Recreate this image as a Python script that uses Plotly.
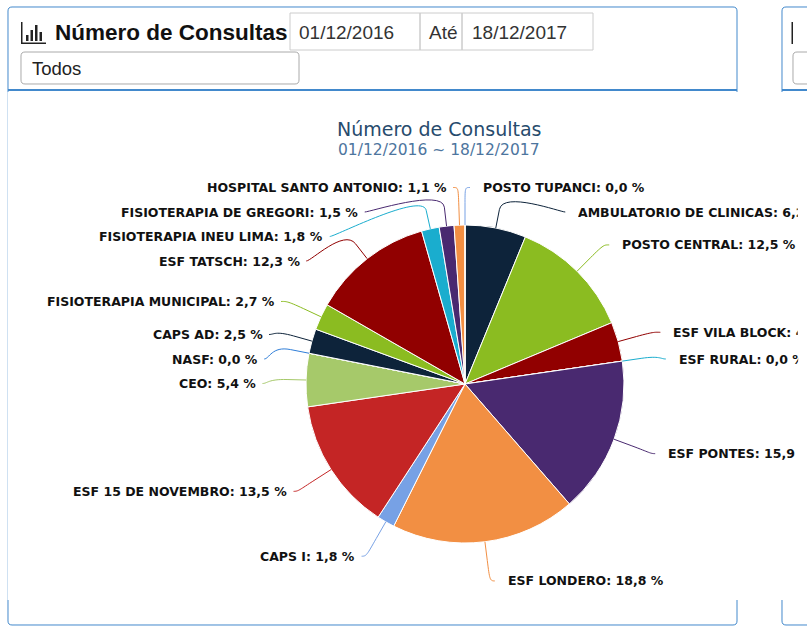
import math
import plotly.graph_objects as go

W, H = 807, 642

# share of consultations (%), clockwise from 12 o'clock
units = ["AMBULATORIO DE CLINICAS", "POSTO CENTRAL", "ESF VILA BLOCK", "ESF RURAL",
         "ESF PONTES", "ESF LONDERO", "CAPS I", "ESF 15 DE NOVEMBRO", "CEO", "NASF",
         "CAPS AD", "FISIOTERAPIA MUNICIPAL", "ESF TATSCH", "FISIOTERAPIA INEU LIMA",
         "FISIOTERAPIA DE GREGORI", "HOSPITAL SANTO ANTONIO", "POSTO TUPANCI"]
shares = [6.2, 12.5, 4.0, 0.0, 15.9, 18.8, 1.8, 13.5, 5.4, 0.0,
          2.5, 2.7, 12.3, 1.8, 1.5, 1.1, 0.0]
slice_colors = ["#0d233a", "#8bbc21", "#910000", "#1aadce", "#492970", "#f28f43",
                "#77a1e5", "#c42525", "#a6c96a", "#2f7ed8", "#0d233a", "#8bbc21",
                "#910000", "#1aadce", "#492970", "#f28f43", "#77a1e5"]
panel_title = "Número de Consultas"
date_from = "01/12/2016"
date_to = "18/12/2017"
unit_filter = "Todos"

BLUE = "#4289cc"

# pie geometry in page pixels
cx, cy, r = 465, 384, 159
lab_cy, lab_r = 385, 197.5
slot_h = 24.5


def px(x):
    return x / W


def py(y):
    return 1 - y / H


def pt(x, y):
    return f"{px(x):.5f},{py(y):.5f}"


def rounded_rect(x0, y0, x1, y1, rad):
    return ("M" + pt(x0 + rad, y0) + " L" + pt(x1 - rad, y0) + " Q" + pt(x1, y0) + " " + pt(x1, y0 + rad)
            + " L" + pt(x1, y1 - rad) + " Q" + pt(x1, y1) + " " + pt(x1 - rad, y1)
            + " L" + pt(x0 + rad, y1) + " Q" + pt(x0, y1) + " " + pt(x0, y1 - rad)
            + " L" + pt(x0, y0 + rad) + " Q" + pt(x0, y0) + " " + pt(x0 + rad, y0) + " Z")


shapes = []
annotations = []


def box(x0, y0, x1, y1, line="#cccccc", fill="rgba(0,0,0,0)", width=1, layer="below"):
    shapes.append(dict(type="rect", xref="paper", yref="paper", x0=px(x0), x1=px(x1),
                       y0=py(y1), y1=py(y0), line=dict(color=line, width=width),
                       fillcolor=fill, layer=layer))


def text(x, y, s, size, color="#222", family="Liberation Sans", anchor="left", weight="normal", **kw):
    annotations.append(dict(x=px(x), y=py(y), xref="paper", yref="paper", text=s,
                            showarrow=False, xanchor=anchor, yanchor="middle", borderpad=0,
                            font=dict(family=family, size=size, color=color, weight=weight), **kw))


# panels
for x0, x1 in [(8, 737), (782, 920)]:
    shapes.append(dict(type="path", xref="paper", yref="paper", path=rounded_rect(x0, 7, x1, 625, 4),
                       line=dict(color=BLUE, width=1), layer="below"))
    box(x0, 89, x1, 91, line=BLUE, fill=BLUE, width=0)

# chart container hides the panel side borders
box(7.5, 92, 797, 600, line="white", fill="white", width=0)

# header of first panel
box(21, 42.5, 46, 44, line="#222", fill="#222", width=0)
box(21, 22, 22.5, 44, line="#222", fill="#222", width=0)
for bx, bh in [(26, 6), (30.5, 11), (35, 16), (39.5, 9)]:
    box(bx, 41 - bh, bx + 2.5, 41, line="#222", fill="#222", width=0)
text(54, 33, panel_title, 22.5, color="#111", weight="bold")
box(290, 13, 420, 50)
box(420, 13, 462, 50)
box(462, 13, 593, 50)
text(298, 32, date_from, 19, color="#333")
text(428, 32, "Até", 19, color="#333")
text(471, 32, date_to, 19, color="#333")
shapes.append(dict(type="path", xref="paper", yref="paper", path=rounded_rect(21, 52, 299, 84, 4),
                   line=dict(color="#aaaaaa", width=1), layer="below"))
text(31, 68, unit_filter, 18.5, color="#222")

# fragment of the neighbouring panel header
box(791.5, 22, 793, 44, line="#222", fill="#222", width=0)
shapes.append(dict(type="path", xref="paper", yref="paper", path=rounded_rect(793, 52, 900, 84, 4),
                   line=dict(color="#aaaaaa", width=1), layer="below"))

# chart title
text(439, 129, panel_title, 19, color="#274b6d", family="DejaVu Sans", anchor="center")
text(439, 150, f"{date_from} ~ {date_to}", 15.5, color="#4d759e", family="DejaVu Sans", anchor="center")

# data labels, placed in slots like the original pie labels
total = sum(shares)
info = []
acc = 0.0
for name, v, col in zip(units, shares, slice_colors):
    a0 = acc / total * 360
    acc += v
    a1 = acc / total * 360
    mid = (a0 + a1) / 2
    if mid >= 359.95:
        mid -= 360
    t = math.radians(mid)
    info.append(dict(name=name, v=v, col=col, t=t, side="right" if mid < 180 else "left",
                     nat_y=lab_cy - lab_r * math.cos(t)))

top, bottom = lab_cy - lab_r, lab_cy + lab_r
slots0 = []
s = top
while s <= bottom + 1e-9:
    slots0.append(s)
    s += slot_h


def get_x(y, sign):
    q = max(-1.0, min(1.0, (y - lab_cy) / lab_r))
    return cx + sign * math.cos(math.asin(q)) * lab_r


for side in ("right", "left"):
    sign = 1 if side == "right" else -1
    pts = sorted([p for p in info if p["side"] == side], key=lambda p: p["nat_y"])
    slots = list(slots0)
    n, m = len(slots), len(pts)
    used = []
    for j, p in enumerate(pts):
        free = [i for i in range(n) if slots[i] is not None]
        k = min(free, key=lambda i: abs(slots[i] - p["nat_y"]))
        if k < j and slots[j] is not None:
            k = j
        elif n < m - j + k and slots[j] is not None:
            k = n - m + j
            while slots[k] is None:
                k += 1
        else:
            while slots[k] is None:
                k += 1
        used.append(k)
        slots[k] = None
    used.sort()
    for p, k in zip(pts, used):
        y = slots0[k]
        ny = p["nat_y"]
        if (ny > y and (k + 1 >= n or slots[k + 1] is not None)) or \
           (ny < y and (k - 1 < 0 or slots[k - 1] is not None)):
            y = ny
        x = get_x(ny if (k == 0 or k == n - 1) else y, sign)

        lbl = f"{p['name']}: " + f"{p['v']:.1f}".replace(".", ",") + " %"
        if side == "right":
            tx = x + 17
            # the page cuts the chart off at x = 797
            text(tx, y, lbl, 12.5, color="#111", family="DejaVu Sans", anchor="left",
                 weight="bold", width=797 - tx, align="left")
        else:
            text(x - 10.5, y, lbl, 12.5, color="#111", family="DejaVu Sans", anchor="right",
                 weight="bold")

        st, ct = math.sin(p["t"]), math.cos(p["t"])
        b2 = (cx + (r + 19) * st, cy - (r + 19) * ct)
        b4 = (cx + r * st, cy - r * ct)
        path = ("M" + pt(x + 5 * sign, y) + " C" + pt(x, y) + " "
                + pt(2 * b2[0] - b4[0], 2 * b2[1] - b4[1]) + " " + pt(*b2) + " L" + pt(*b4))
        shapes.append(dict(type="path", xref="paper", yref="paper", path=path,
                           line=dict(color=p["col"], width=1), layer="above"))

fig = go.Figure(go.Pie(
    labels=units,
    values=shares,
    marker=dict(colors=slice_colors, line=dict(color="white", width=1)),
    sort=False,
    direction="clockwise",
    rotation=0,
    textinfo="none",
    hoverinfo="label+percent",
    showlegend=False,
    domain=dict(x=[px(cx - r), px(cx + r)], y=[py(cy + r), py(cy - r)]),
))

fig.update_layout(
    width=W, height=H,
    margin=dict(l=0, r=0, t=0, b=0, pad=0),
    paper_bgcolor="white",
    plot_bgcolor="white",
    shapes=shapes,
    annotations=annotations,
)

fig.write_html("out.html", config={"displayModeBar": False},
               post_script="document.body.style.margin='0';")
